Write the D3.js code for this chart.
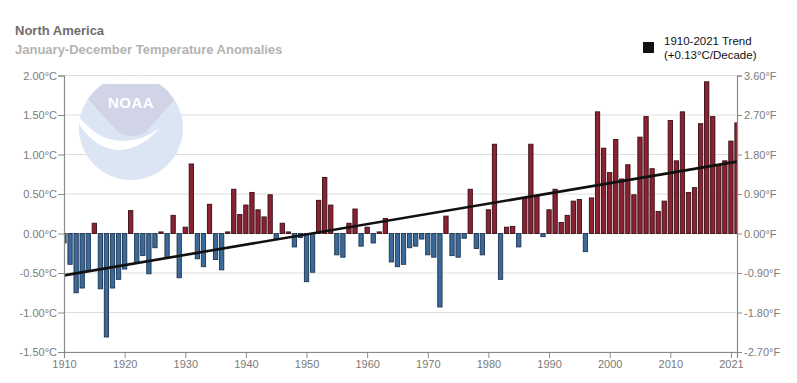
<!DOCTYPE html>
<html><head><meta charset="utf-8">
<script src="https://cdn.jsdelivr.net/npm/d3@7/dist/d3.min.js"></script>
<style>
html,body{margin:0;padding:0;background:#fff;}
svg{display:block;font-family:"Liberation Sans",Arial,sans-serif;}
</style></head>
<body><svg id="c" width="797" height="383"></svg>
<script>
const years = d3.range(1910, 2022);
const anomalies = [
 -0.12,-0.39,-0.75,-0.69,-0.48, 0.13,-0.70,-1.31,-0.69,-0.58,
 -0.45, 0.29,-0.38,-0.28,-0.51,-0.18, 0.02,-0.31, 0.23,-0.56,
  0.08, 0.88,-0.32,-0.42, 0.37,-0.33,-0.46, 0.02, 0.56, 0.24,
  0.36, 0.52, 0.30, 0.21, 0.49,-0.07, 0.13, 0.02,-0.17,-0.05,
 -0.61,-0.49, 0.42, 0.71, 0.36,-0.27,-0.30, 0.13, 0.31,-0.16,
  0.08,-0.12, 0.02, 0.19,-0.36,-0.42,-0.39,-0.18,-0.16,-0.07,
 -0.27,-0.30,-0.93, 0.22,-0.28,-0.30,-0.06, 0.56,-0.19,-0.27,
  0.30, 1.13,-0.58, 0.08, 0.09,-0.17, 0.45, 1.13, 0.47,-0.04,
  0.30, 0.56, 0.14, 0.23, 0.41, 0.43,-0.23, 0.45, 1.54, 1.08,
  0.77, 1.19, 0.69, 0.87, 0.49, 1.22, 1.48, 0.82, 0.28, 0.41,
  1.43, 0.92, 1.54, 0.52, 0.58, 1.39, 1.92, 1.48, 0.86, 0.92,
  1.17, 1.40
];
const trendYears = [1910, 2021];
const trendValues = [-0.53, 0.91];
const yTicksC = [-1.5,-1.0,-0.5,0,0.5,1.0,1.5,2.0];
const yLabelsC = ["-1.50°C","-1.00°C","-0.50°C","0.00°C","0.50°C","1.00°C","1.50°C","2.00°C"];
const yLabelsF = ["-2.70°F","-1.80°F","-0.90°F","0.00°F","0.90°F","1.80°F","2.70°F","3.60°F"];
const xTickValues = [1910,1920,1930,1940,1950,1960,1970,1980,1990,2000,2010,2020];
const xTickLabels = ["1910","1920","1930","1940","1950","1960","1970","1980","1990","2000","2010","2021"];
const title = "North America";
const subtitle = "January-December Temperature Anomalies";
const legendLines = ["1910-2021 Trend","(+0.13°C/Decade)"];

const svg = d3.select("#c");
const L = 64, R = 737, T = 75.5, B = 352;
const x = d3.scaleLinear().domain([1910, 2021]).range([L, R]);
const y = d3.scaleLinear().domain([-1.5, 2.0]).range([B, T]);

// titles
svg.append("text").attr("x",15).attr("y",34.5).attr("font-size",13).attr("font-weight","bold")
  .attr("fill","#6e6e6e").text(title);
svg.append("text").attr("x",15).attr("y",53.5).attr("font-size",13).attr("font-weight","bold")
  .attr("fill","#b3b3b3").text(subtitle);

// legend
svg.append("rect").attr("x",643).attr("y",42).attr("width",11).attr("height",11).attr("fill","#111");
legendLines.forEach((t,i)=>svg.append("text").attr("x",664).attr("y",45+i*13.5)
  .attr("font-size",11.5).attr("fill","#111").text(t));

// gridlines
svg.append("g").selectAll("line").data(yTicksC).join("line")
  .attr("x1",L).attr("x2",R).attr("y1",d=>y(d)).attr("y2",d=>y(d))
  .attr("stroke","#dedede").attr("stroke-width",1);

// NOAA watermark
const logo = svg.append("g");
logo.append("clipPath").attr("id","lc").append("circle").attr("cx",131).attr("cy",128).attr("r",52);
const lg = logo.append("g").attr("clip-path","url(#lc)");
lg.append("rect").attr("x",70).attr("y",70).attr("width",125).attr("height",120).attr("fill","#dce5f3");
lg.append("rect").attr("x",70).attr("y",70).attr("width",125).attr("height",15).attr("fill","#ffffff");
lg.append("path").attr("d","M70,84 L88,99 Q105,118 118,132 Q131,140 146,132 Q160,116 174,100 L195,84 Z")
  .attr("fill","#d1d3e7");
lg.append("path").attr("d","M70,84 L88,99 Q95,90 100,85 Z").attr("fill","#ffffff");
lg.append("path").attr("d","M195,84 L174,100 Q168,90 162,85 Z").attr("fill","#ffffff");
lg.append("path").attr("d","M72,112 Q90,148 118,150 Q140,150 160,128 Q140,142 122,141 Q100,140 86,124 Q78,116 72,112 Z")
  .attr("fill","#ffffff");
logo.append("text").attr("x",131).attr("y",108).attr("text-anchor","middle").attr("font-size",15)
  .attr("font-weight","bold").attr("fill","#ffffff").attr("letter-spacing",0.5).text("NOAA");

// clip
svg.append("clipPath").attr("id","pc").append("rect").attr("x",L).attr("y",T-2).attr("width",R-L).attr("height",B-T+4);

// bars
const bw = 4.3;
svg.append("g").attr("clip-path","url(#pc)").selectAll("rect").data(years).join("rect")
  .attr("x",(d)=>x(d)-bw/2).attr("width",bw)
  .attr("y",(d,i)=>y(Math.max(0,anomalies[i])))
  .attr("height",(d,i)=>Math.max(0.6,Math.abs(y(anomalies[i])-y(0))))
  .attr("fill",(d,i)=>anomalies[i]>=0?"#8a2232":"#3b6a9a")
  .attr("stroke",(d,i)=>anomalies[i]>=0?"#3a0e16":"#1c3450")
  .attr("stroke-width",0.9);

// trend
svg.append("line").attr("x1",x(trendYears[0])).attr("y1",y(trendValues[0]))
  .attr("x2",x(trendYears[1])).attr("y2",y(trendValues[1]))
  .attr("stroke","#111").attr("stroke-width",2.6);

// axes
const axisCol = "#8a8a8a";
const lAxis = svg.append("g").attr("transform",`translate(${L},0)`)
  .call(d3.axisLeft(y).tickValues(yTicksC).tickSize(6).tickFormat((d,i)=>yLabelsC[i]));
const rAxis = svg.append("g").attr("transform",`translate(${R},0)`)
  .call(d3.axisRight(y).tickValues(yTicksC).tickSize(5).tickFormat((d,i)=>yLabelsF[i]));
const bAxis = svg.append("g").attr("transform",`translate(0,${B})`)
  .call(d3.axisBottom(x).tickValues(xTickValues).tickSize(6).tickFormat((d,i)=>xTickLabels[i]));
[lAxis,rAxis,bAxis].forEach(g=>{
  g.select(".domain").attr("stroke",axisCol).attr("stroke-width",1.2);
  g.selectAll(".tick line").attr("stroke",axisCol);
  g.selectAll(".tick text").attr("fill","#7a7a7a").attr("font-size",11)
   .attr("font-family","'Liberation Sans',Arial,sans-serif");
});
lAxis.selectAll(".tick text").attr("x",-7);
rAxis.selectAll(".tick text").attr("x",7);
bAxis.selectAll(".tick text").attr("y",8);
</script></body></html>
